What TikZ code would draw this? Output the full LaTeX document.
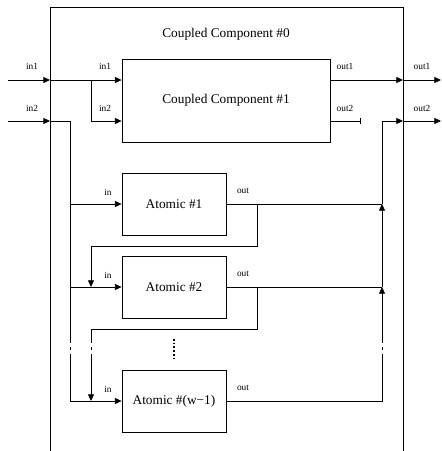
\documentclass[tikz,border=0pt]{standalone}
\usepackage{fontspec}
\setmainfont{Liberation Serif}
\usetikzlibrary{arrows.meta}
\tikzset{
  wire/.style={line width=0.6pt},
  feed/.style={wire,-{Triangle[length=5pt,width=4.5pt]}},
  stub/.style={wire,-{Bar[width=4pt]}},
  ccbox/.style={draw,line width=0.6pt,minimum width=156pt,minimum height=62.25pt,font=\fontsize{10}{12}\selectfont},
  atbox/.style={draw,line width=0.6pt,minimum width=78pt,minimum height=46.5pt,font=\fontsize{10}{12}\selectfont},
  portlbl/.style={inner sep=0pt,font=\fontsize{7}{8}\selectfont}
}

\begin{document}
\begin{tikzpicture}[x=0.75pt,y=0.75pt,yscale=-1,xscale=1]
\useasboundingbox (0,0) rectangle (442,451);

%Outer coupled component (open at the bottom)
\draw [wire] (50,451) -- (50,7) -- (403,7) -- (403,451) ;
\node [inner sep=0pt,font=\fontsize{10}{12}\selectfont] (cc0) at (226,34) {Coupled Component \#0};

%Boxes
\node [ccbox] (cc1) at (226,100.5) {Coupled Component \#1};
\node [atbox] (a1) at (174,204) {Atomic \#1};
\node [atbox] (a2) at (174,287) {Atomic \#2};
\node [atbox] (aw) at (174,401) {Atomic \#(w−1)};

%Ports and corners
\coordinate (i1e) at (8,80);
\coordinate (i1) at (50,80);
\coordinate (i2e) at (8,121);
\coordinate (i2) at (50,121);
\coordinate (o1) at (403,80);
\coordinate (o1e) at (441,80);
\coordinate (o2) at (403,121);
\coordinate (o2e) at (441,121);
\coordinate (o2end) at (361,121);
\coordinate (inbus) at (70,121);
\coordinate (fbk) at (91,80);
\coordinate (outbus) at (382,121);

%Inputs
\draw [feed] (i1e) -- (i1) ;
\draw [feed] (i2e) -- (i2) ;
\draw [feed] (i1) -- (cc1.west |- i1) ;
\draw [feed] (fbk) |- (cc1.west |- i2) ;
\draw [wire] (i2) -- (inbus) -- (70,343) ;
\draw [wire] (70,346.5) -- (70,350) ;
\draw [wire] (70,354) -- (70,401) ;
\draw [feed] (70,401) -- (aw.west) ;
\draw [feed] (70,204) -- (a1.west) ;
\draw [feed] (70,287) -- (a2.west) ;

%Outputs of Coupled Component #1
\draw [feed] (cc1.east |- o1) -- (o1) ;
\draw [feed] (o1) -- (o1e) ;
\draw [stub] (cc1.east |- o2) -- (o2end) ;
\draw [feed] (outbus) -- (o2) ;
\draw [feed] (o2) -- (o2e) ;

%Atomic outputs and feedback
\draw [wire] (a1.east) -- (382,204) ;
\draw [wire] (257,204) -- (257,246) -- (91,246) ;
\draw [feed] (91,246) -- (91,287) ;
\draw [wire] (a2.east) -- (382,287) ;
\draw [wire] (257,287) -- (257,329) -- (91,329) -- (91,343) ;
\draw [wire] (91,346.5) -- (91,350) ;
\draw [feed] (91,354) -- (91,401) ;
\draw [wire] (aw.east) -- (382,401) -- (382,354) ;
\draw [wire] (382,350) -- (382,346.5) ;
\draw [feed] (382,343) -- (382,287) ;
\draw [feed] (382,287) -- (382,204) ;
\draw [wire] (382,204) -- (outbus) ;

%Dots between Atomic #2 and Atomic #(w-1)
\draw [line width=1pt,dash pattern={on 1.2pt off 1.6pt}] (174,339) -- (174,358) ;

% Text Node
\node [portlbl] (l1) at (32,66) {in1};
\node [portlbl] (l2) at (32,108) {in2};
\node [portlbl] (l3) at (105,66) {in1};
\node [portlbl] (l4) at (105,108) {in2};
\node [portlbl] (l5) at (345,66) {out1};
\node [portlbl] (l6) at (345,108) {out2};
\node [portlbl] (l7) at (422,66) {out1};
\node [portlbl] (l8) at (422,108) {out2};
\node [portlbl] (l9) at (108,192) {in};
\node [portlbl] (l10) at (108,275) {in};
\node [portlbl] (l11) at (108,389) {in};
\node [portlbl] (l12) at (243,191) {out};
\node [portlbl] (l13) at (243,274) {out};
\node [portlbl] (l14) at (243,388) {out};

\end{tikzpicture}
\end{document}
